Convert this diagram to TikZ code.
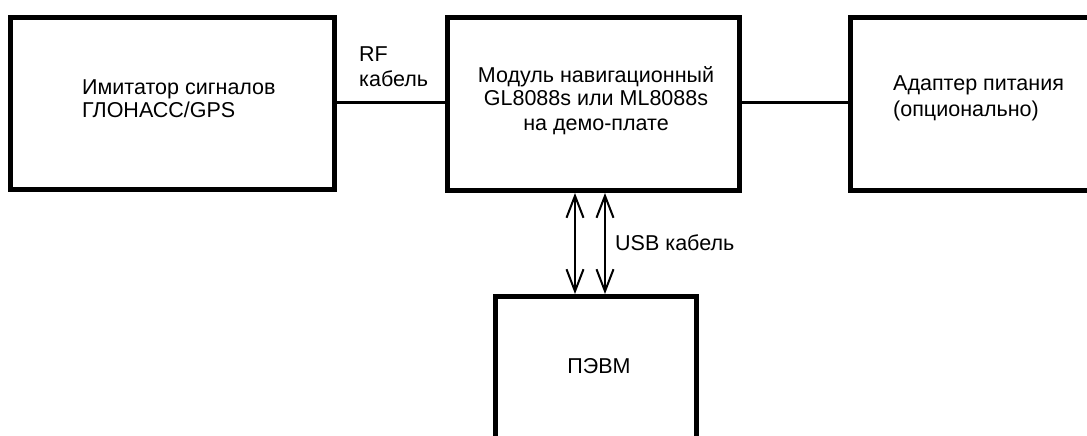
\documentclass[tikz,border=0pt]{standalone}
\usepackage{fontspec}
\setmainfont{Liberation Sans}
\usetikzlibrary{arrows.meta}
\begin{document}
\begin{tikzpicture}[x=1pt,y=-1pt,
  blk/.style={draw=black,line width=5pt,rectangle,inner sep=0pt},
  txt/.style={font=\fontsize{21.5}{24}\selectfont,inner sep=0pt,anchor=base west},
  ctxt/.style={font=\fontsize{21.5}{24}\selectfont,inner sep=0pt,anchor=base},
  wire/.style={line width=3pt},
  usb/.style={line width=2pt,{Straight Barb[length=22pt,width=17pt]}-{Straight Barb[length=22pt,width=17pt]}}]
\useasboundingbox (0,0) rectangle (1087,436);
\clip (0,0) rectangle (1087,436);
\node[blk,minimum width=324pt,minimum height=172pt] (b1) at (172.5,103.5) {};
\node[blk,minimum width=292pt,minimum height=173pt] (b2) at (593.5,104) {};
\node[blk,minimum width=250pt,minimum height=173pt] (b3) at (975.5,104) {};
\node[blk,minimum width=201pt,minimum height=164pt] (b4) at (596,378.5) {};
\coordinate (ly) at (0,102);
\coordinate (ax1) at (575,0);
\coordinate (ax2) at (605,0);
\draw[wire] (b1.east |- ly) -- (b2.west |- ly);
\draw[wire] (b2.east |- ly) -- (b3.west |- ly);
\draw[usb] (b2.south -| ax1) -- (b4.north -| ax1);
\draw[usb] (b2.south -| ax2) -- (b4.north -| ax2);
\node[txt] (t1a) at (82,94) {Имитатор сигналов};
\node[txt] (t1b) at (82,117) {ГЛОНАСС/GPS};
\node[txt] (rf1) at (359,62) {RF};
\node[txt] (rf2) at (359,86) {кабель};
\node[ctxt] (t2a) at (596,82) {Модуль навигационный};
\node[ctxt] (t2b) at (596,106) {GL8088s или ML8088s};
\node[ctxt] (t2c) at (596,130) {на демо-плате};
\node[txt] (t3a) at (893,91) {Адаптер питания};
\node[txt] (t3b) at (893,116) {(опционально)};
\node[txt] (usbl) at (615,250) {USB кабель};
\node[ctxt] (t4) at (599,373) {ПЭВМ};
\end{tikzpicture}
\end{document}
